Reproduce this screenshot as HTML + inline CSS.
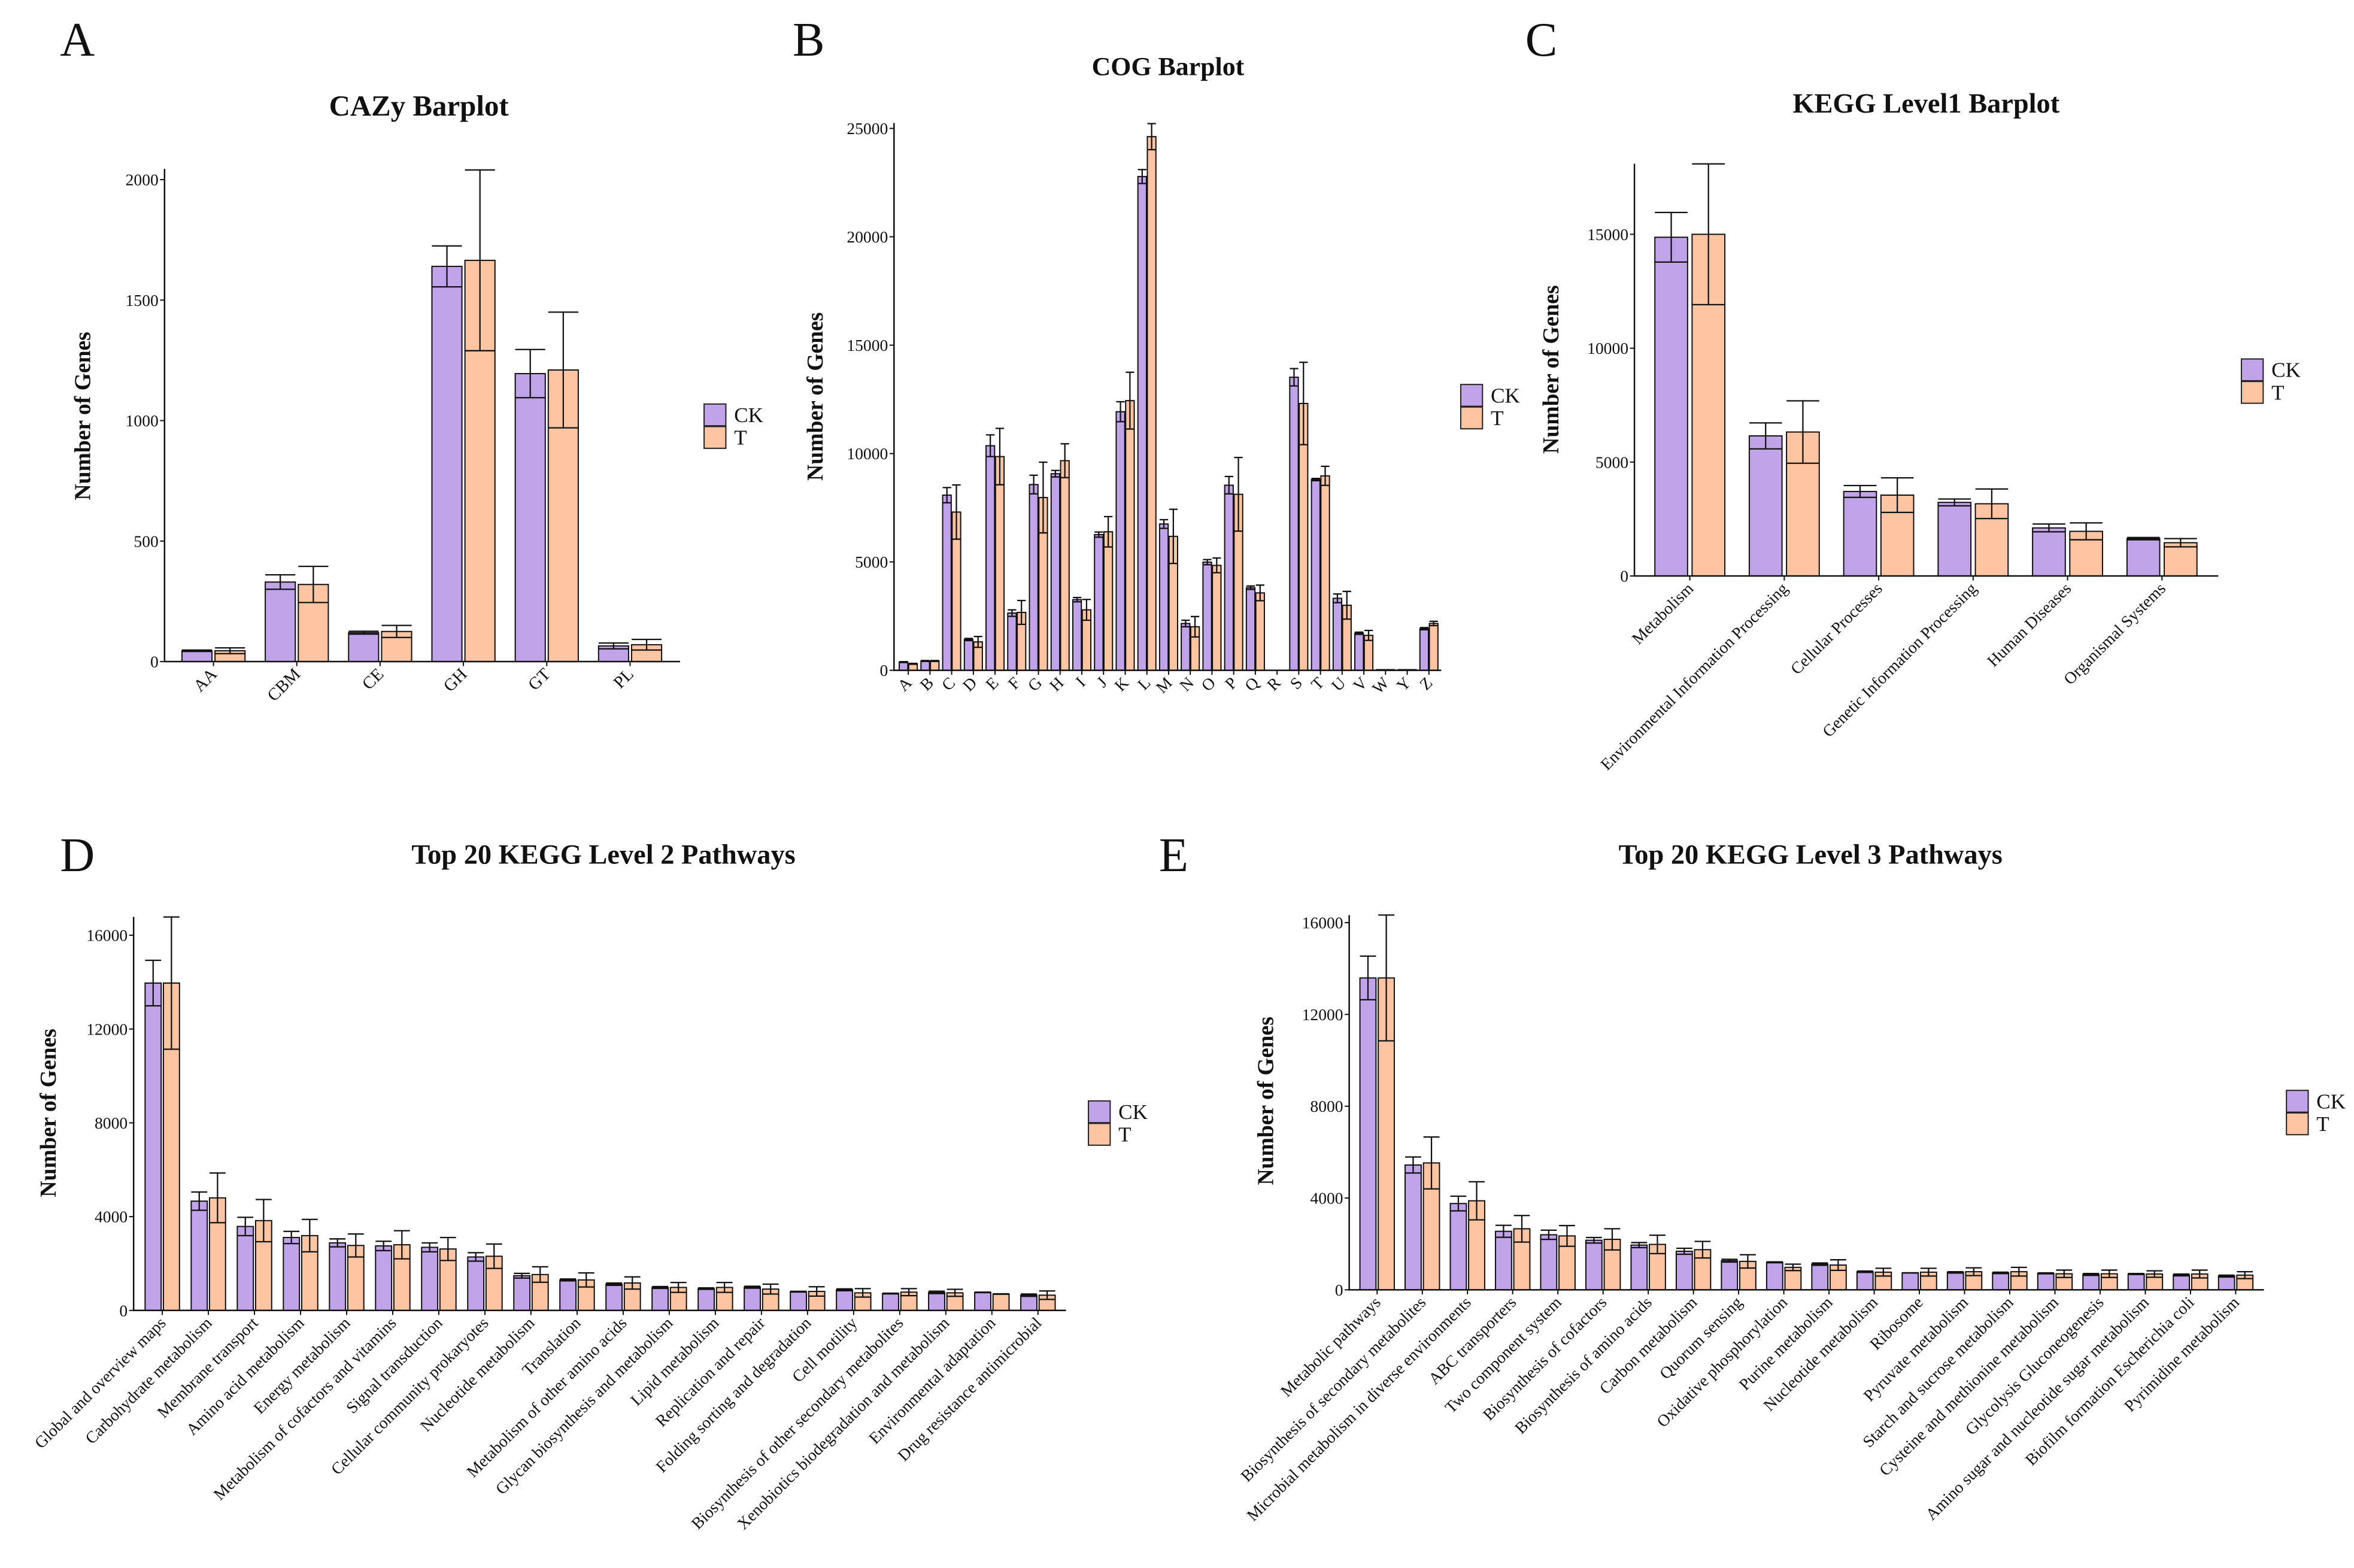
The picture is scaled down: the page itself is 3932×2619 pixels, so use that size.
<!DOCTYPE html>
<html>
<head>
<meta charset="utf-8">
<style>
html,body{margin:0;padding:0;background:#fff;}
svg{display:block;}
text{font-family:"Liberation Serif",serif;fill:#111;}
</style>
</head>
<body>
<svg id="fig" xmlns="http://www.w3.org/2000/svg" width="3932" height="2619" viewBox="0 0 1568 1044" preserveAspectRatio="none">
<rect x="0" y="0" width="1568" height="1044" fill="#fff"/>
</svg>
<script>
// ---------- Panel A: CAZy ----------
const aCats = ["AA","CBM","CE","GH","GT","PL"];
const aCK   = [45, 330, 120, 1640, 1195, 65];
const aCKsd = [3, 30, 6, 85, 100, 12];
const aT    = [45, 320, 125, 1665, 1210, 70];
const aTsd  = [12, 75, 25, 375, 240, 22];
const aTicks = [0, 500, 1000, 1500, 2000];

// ---------- Panel B: COG ----------
const bCats = ["A","B","C","D","E","F","G","H","I","J","K","L","M","N","O","P","Q","R","S","T","U","V","W","Y","Z"];
const bCK   = [380,430,8080,1420,10360,2640,8570,9070,3260,6260,11930,22780,6750,2160,4990,8540,3810,0,13520,8800,3320,1710,30,30,1920];
const bCKsd = [20,20,350,50,500,150,430,150,100,120,460,320,200,150,120,400,80,0,400,50,200,50,0,0,50];
const bT    = [300,430,7300,1310,9860,2670,7970,9670,2790,6390,12440,24620,6180,2010,4840,8120,3570,0,12310,8970,3000,1610,30,30,2160];
const bTsd  = [20,20,1250,250,1300,550,1630,780,480,700,1310,600,1250,470,340,1700,360,0,1900,440,640,230,0,0,100];
const bTicks = [0, 5000, 10000, 15000, 20000, 25000];

// ---------- Panel C: KEGG Level1 ----------
const cCats = ["Metabolism","Environmental Information Processing","Cellular Processes","Genetic Information Processing","Human Diseases","Organismal Systems"];
const cCK   = [14870, 6150, 3710, 3230, 2110, 1640];
const cCKsd = [1090, 570, 260, 150, 170, 50];
const cT    = [15000, 6320, 3550, 3170, 1960, 1460];
const cTsd  = [3090, 1370, 760, 650, 370, 180];
const cTicks = [0, 5000, 10000, 15000];

// ---------- Panel D: KEGG Level 2 ----------
const dCats = ["Global and overview maps","Carbohydrate metabolism","Membrane transport","Amino acid metabolism","Energy metabolism","Metabolism of cofactors and vitamins","Signal transduction","Cellular community  prokaryotes","Nucleotide metabolism","Translation","Metabolism of other amino acids","Glycan biosynthesis and metabolism","Lipid metabolism","Replication and repair","Folding  sorting and degradation","Cell motility","Biosynthesis of other secondary metabolites","Xenobiotics biodegradation and metabolism","Environmental adaptation","Drug resistance  antimicrobial"];
const dCK   = [13960,4660,3580,3110,2880,2750,2690,2280,1480,1300,1120,980,930,990,800,880,720,770,770,650];
const dCKsd = [970,390,390,260,170,200,190,180,100,40,50,40,30,40,15,40,15,50,10,50];
const dT    = [13960,4800,3830,3190,2770,2800,2620,2310,1530,1300,1170,980,980,910,810,750,780,750,700,650];
const dTsd  = [2820,1060,900,690,490,600,490,520,330,300,260,210,210,210,200,180,150,150,10,180];
const dTicks = [0, 4000, 8000, 12000, 16000];

// ---------- Panel E: KEGG Level 3 ----------
const eCats = ["Metabolic pathways","Biosynthesis of secondary metabolites","Microbial metabolism in diverse environments","ABC transporters","Two component system","Biosynthesis of cofactors","Biosynthesis of amino acids","Carbon metabolism","Quorum sensing","Oxidative phosphorylation","Purine metabolism","Nucleotide metabolism","Ribosome","Pyruvate metabolism","Starch and sucrose metabolism","Cysteine and methionine metabolism","Glycolysis  Gluconeogenesis","Amino sugar and nucleotide sugar metabolism","Biofilm formation  Escherichia coli","Pyrimidine metabolism"];
const eCK   = [13590,5440,3760,2550,2400,2160,1950,1680,1270,1200,1120,790,740,760,740,720,670,690,650,600];
const eCKsd = [950,350,320,260,200,120,110,130,60,20,50,30,5,30,30,20,40,20,40,40];
const eT    = [13590,5530,3880,2660,2350,2200,1980,1750,1240,980,1080,770,770,790,790,700,700,690,690,640];
const eTsd  = [2740,1130,830,580,450,460,400,360,290,140,230,170,170,170,190,160,160,140,170,150];
const eTicks = [0, 4000, 8000, 12000, 16000];

const NS = "http://www.w3.org/2000/svg";
const svg = document.getElementById("fig");
const CKC = "#C0A3E8", TC = "#FFC4A1";

function mk(tag, attrs, parent) {
  const el = document.createElementNS(NS, tag);
  for (const k in attrs) el.setAttribute(k, attrs[k]);
  (parent || svg).appendChild(el);
  return el;
}

function panel(p) {
  const g = mk("g", {});
  
  
  const yS = v => p.y0 - (v / p.yRef) * (p.y0 - p.yRefPx);
  const xC = i => p.x1 + i * p.step;

  const L = mk("text", {x: p.lx, y: p.ly, "font-size": 32}, g);
  L.textContent = p.letter;
  
  
  const T = mk("text", {x: p.tx, y: p.ty, "font-size": p.tfs, "font-weight": "bold", "text-anchor": "middle"}, g);
  T.textContent = p.title;
  
  
  const Y = mk("text", {x: 0, y: 0, "font-size": 15, "font-weight": "bold", "text-anchor": "middle", transform: `translate(${p.ylx},${p.yly}) rotate(-90)`}, g);
  Y.textContent = "Number of Genes";
  
  

  const hb = p.gap / 2;
  for (let i = 0; i < p.cats.length; i++) {
    const c = xC(i);
    const series = [
      {v: p.ck[i], sd: p.cksd[i], x: c - hb - p.bw, col: CKC, n: 'ck'},
      {v: p.t[i], sd: p.tsd[i], x: c + hb, col: TC, n: 't'}
    ];
    series.forEach(s => {
      const top = yS(s.v);
      const r = mk("rect", {x: s.x, y: top, width: p.bw, height: Math.max(0, p.y0 - top), fill: s.col, stroke: "#111", "stroke-width": 0.8}, g);
      
      
      if (s.sd > 0) {
        const hi = yS(s.v + s.sd), lo = yS(Math.max(0, s.v - s.sd));
        const mx = s.x + p.bw / 2;
        const e = mk("path", {d: `M${mx},${hi}V${lo}M${s.x},${hi}H${s.x + p.bw}M${s.x},${lo}H${s.x + p.bw}`, stroke: "#111", "stroke-width": 0.9, fill: "none"}, g);
        
        
      }
    });
    const tk = mk("line", {x1: c, y1: p.y0, x2: c, y2: p.y0 + 3, stroke: "#111", "stroke-width": 0.8}, g);
    
    
    const lx = c + 3, ly = p.y0 + 9;
    const xl = mk("text", {x: lx, y: ly, "font-size": p.xfs, "text-anchor": "end", transform: `rotate(-45 ${lx} ${ly})`}, g);
    xl.textContent = p.cats[i];
    
    
  }

  const ax = mk("path", {d: `M${p.ax},${p.axTop}V${p.y0}H${p.xEnd}`, stroke: "#111", "stroke-width": 1, fill: "none"}, g);
  
  
  p.ticks.forEach(v => {
    const y = yS(v);
    const tl = mk("line", {x1: p.ax - 3, y1: y, x2: p.ax, y2: y, stroke: "#111", "stroke-width": 0.8}, g);
    
    
    const tt = mk("text", {x: p.ax - 4, y: y + 3.8, "font-size": 11, "text-anchor": "end"}, g);
    tt.textContent = String(v);
    
    
  });

  const lg = mk("g", {}, g);
  
  
  [["CK", CKC], ["T", TC]].forEach((e, k) => {
    const by = p.legY + k * 15;
    const b = mk("rect", {x: p.legX, y: by, width: 14.5, height: 14.5, fill: e[1], stroke: "#222", "stroke-width": 0.8}, lg);
    
    
    const t = mk("text", {x: p.legX + 20, y: by + 12, "font-size": 14}, lg);
    t.textContent = e[0];
    
    
  });
}

panel({id:"cazy", letter:"A", lx:40, ly:37, title:"CAZy Barplot", tx:279, ty:77, tfs:19.5,
  ylx:60, yly:277, cats:aCats, ck:aCK, cksd:aCKsd, t:aT, tsd:aTsd, ticks:aTicks,
  ax:109.6, axTop:112.4, y0:440.5, yRef:2000, yRefPx:119.6, xEnd:453,
  x1:142.2, step:55.5, bw:20, gap:2, xfs:11.5, legX:469, legY:269});

panel({id:"cog", letter:"B", lx:528, ly:37, title:"COG Barplot", tx:778, ty:50, tfs:17.5,
  ylx:548, yly:264, cats:bCats, ck:bCK, cksd:bCKsd, t:bT, tsd:bTsd, ticks:bTicks,
  ax:595.5, axTop:81.9, y0:446.3, yRef:25000, yRefPx:85.5, xEnd:960,
  x1:605, step:14.45, bw:5.7, gap:0.6, xfs:11, legX:973, legY:256});

panel({id:"kegg1", letter:"C", lx:1016, ly:37, title:"KEGG Level1 Barplot", tx:1283, ty:75, tfs:18.5,
  ylx:1038, yly:246, cats:cCats, ck:cCK, cksd:cCKsd, t:cT, tsd:cTsd, ticks:cTicks,
  ax:1088.7, axTop:109, y0:383.5, yRef:15000, yRefPx:156, xEnd:1477.6,
  x1:1125.6, step:62.9, bw:21.8, gap:3, xfs:11, legX:1493, legY:239});

panel({id:"kegg2", letter:"D", lx:40, ly:580, title:"Top 20 KEGG Level 2 Pathways", tx:402, ty:575, tfs:18.5,
  ylx:37, yly:741, cats:dCats, ck:dCK, cksd:dCKsd, t:dT, tsd:dTsd, ticks:dTicks,
  ax:89, axTop:610.5, y0:872.5, yRef:16000, yRefPx:622.7, xEnd:710,
  x1:108.1, step:30.7, bw:10.7, gap:1.5, xfs:11, legX:725, legY:733});

panel({id:"kegg3", letter:"E", lx:772, ly:580, title:"Top 20 KEGG Level 3 Pathways", tx:1206, ty:575, tfs:18.5,
  ylx:848, yly:733, cats:eCats, ck:eCK, cksd:eCKsd, t:eT, tsd:eTsd, ticks:eTicks,
  ax:898.7, axTop:609.3, y0:858.8, yRef:16000, yRefPx:614.3, xEnd:1508,
  x1:917.3, step:30.1, bw:10.7, gap:1.5, xfs:11, legX:1523, legY:726});
</script>
</body>
</html>
